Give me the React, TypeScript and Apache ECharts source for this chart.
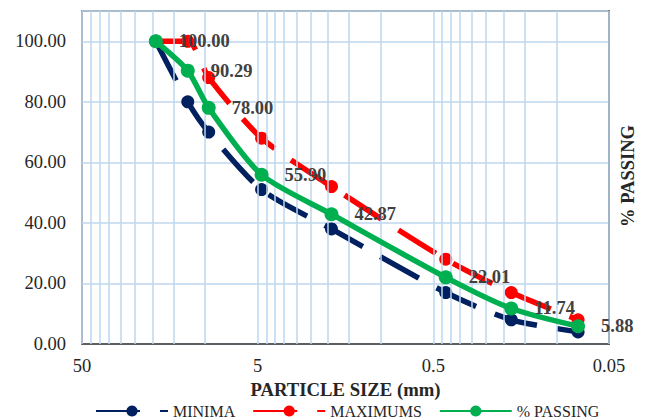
import React, { useEffect, useRef } from "react";
import * as echarts from "echarts";

const sizes = [19, 12.5, 9.5, 4.75, 1.9, 0.425, 0.18, 0.075];
const minima = [100, 80, 70, 51, 38, 17, 8, 4];
const maximums = [100, 100, 88, 68, 52, 28, 17, 8];
const passing = [100.0, 90.29, 78.0, 55.9, 42.87, 22.01, 11.74, 5.88];
const xTickValues = [0.05, 0.5, 5, 50];
const xTickLabels = ["0.05", "0.5", "5", "50"];
const decadeStarts = [0.05, 0.5, 5];
const minorMultipliers = [2, 3, 4, 5, 6, 7, 8, 9];

const BASE = 0.05;
const tx = (v: number) => Math.log10(v / BASE);
const FONT = "'Liberation Serif', 'Times New Roman', serif";

export default function App() {
  const ref = useRef<HTMLDivElement>(null);
  useEffect(() => {
    if (!ref.current) return;
    const chart = echarts.init(ref.current, undefined, { renderer: "svg" });
    const gridVals: number[] = [];
    decadeStarts.forEach((b) => minorMultipliers.forEach((k) => gridVals.push(b * k)));
    xTickValues.forEach((v) => gridVals.push(v));
    const mk = (ys: number[]) => sizes.map((s, i) => [tx(s), ys[i]]);
    const lineDash = [44, 20];
    chart.setOption({
      animation: false,
      grid: {
        left: 82,
        right: 37,
        top: 11,
        bottom: 75,
        show: true,
        borderColor: "#404040",
        borderWidth: 1.5,
        backgroundColor: "transparent",
      },
      legend: {
        data: ["MINIMA", "MAXIMUMS", "% PASSING"],
        left: 95,
        top: 403,
        padding: 0,
        itemWidth: 72,
        itemHeight: 14,
        itemGap: 17,
        textStyle: { fontFamily: FONT, fontSize: 16, color: "#262626" },
      },
      xAxis: {
        type: "value",
        min: 0,
        max: 3,
        interval: 1,
        inverse: true,
        axisLine: { show: true, lineStyle: { color: "#404040", width: 1.5 } },
        axisTick: { show: false },
        splitLine: { show: false },
        axisLabel: {
          margin: 12,
          fontFamily: FONT,
          fontSize: 18.5,
          color: "#262626",
          formatter: (t: number) => {
            const idx = xTickValues.findIndex((v) => Math.abs(tx(v) - t) < 1e-6);
            return idx >= 0 ? xTickLabels[idx] : "";
          },
        },
        name: "PARTICLE SIZE (mm)",
        nameLocation: "middle",
        nameGap: 36,
        nameTextStyle: { fontFamily: FONT, fontSize: 18.7, fontWeight: "bold", color: "#262626" },
      },
      yAxis: {
        type: "value",
        min: 0,
        max: 110,
        interval: 20,
        axisLine: { show: true, lineStyle: { color: "#404040", width: 1.5 } },
        axisTick: { show: false },
        splitLine: { show: true, lineStyle: { color: "#BDD7EE", width: 1.5 } },
        axisLabel: {
          margin: 16,
          showMaxLabel: false,
          fontFamily: FONT,
          fontSize: 18.5,
          color: "#262626",
          formatter: (v: number) => (v > 100 ? "" : v.toFixed(2)),
        },
      },
      graphic: [
        {
          type: "text",
          x: 628,
          y: 176,
          rotation: Math.PI / 2,
          style: {
            text: "% PASSING",
            font: `bold 18.5px ${FONT}`,
            fill: "#262626",
            textAlign: "center",
            textVerticalAlign: "middle",
          },
        },
      ],
      series: [
        {
          name: "grid",
          type: "line",
          data: [],
          z: 1,
          markLine: {
            silent: true,
            symbol: ["none", "none"],
            label: { show: false },
            lineStyle: { color: "#BDD7EE", width: 1.5, type: "solid" },
            data: gridVals.map((v) => ({ xAxis: tx(v) })),
          },
        },
        {
          name: "MINIMA",
          type: "line",
          data: mk(minima),
          smooth: 0.25,
          symbol: "circle",
          symbolSize: 13,
          z: 3,
          color: "#002060",
          lineStyle: { color: "#002060", width: 5.5, type: lineDash },
          itemStyle: { color: "#002060" },
        },
        {
          name: "MAXIMUMS",
          type: "line",
          data: mk(maximums),
          smooth: 0.25,
          symbol: "circle",
          symbolSize: 13,
          z: 4,
          color: "#FF0000",
          lineStyle: { color: "#FF0000", width: 5.5, type: lineDash },
          itemStyle: { color: "#FF0000" },
        },
        {
          name: "% PASSING",
          type: "line",
          data: mk(passing),
          smooth: 0.25,
          symbol: "circle",
          symbolSize: 14,
          z: 5,
          color: "#00B050",
          lineStyle: { color: "#00B050", width: 5.5 },
          itemStyle: { color: "#00B050" },
          label: {
            show: true,
            position: "right",
            distance: 16,
            fontFamily: FONT,
            fontSize: 18.5,
            fontWeight: "bold",
            color: "#404040",
            formatter: (p: any) => Number(p.value[1]).toFixed(2),
          },
        },
      ],
    });
    return () => chart.dispose();
  }, []);
  return (
    <div
      ref={ref}
      style={{ position: "fixed", left: 0, top: 0, width: 646, height: 419, background: "#fff" }}
    />
  );
}
